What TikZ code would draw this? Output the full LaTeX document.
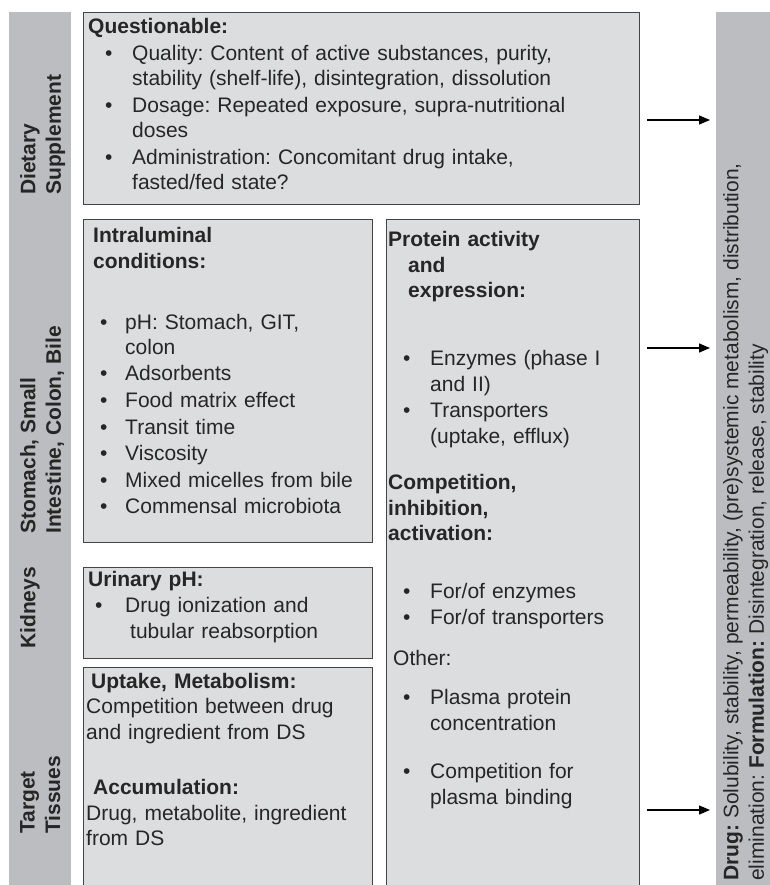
\documentclass[tikz,border=0pt]{standalone}
\usepackage{fontspec}
\setmainfont{Liberation Sans}
\usetikzlibrary{arrows.meta}
\definecolor{bargray}{HTML}{BCBDC0}
\definecolor{boxgray}{HTML}{DCDDDF}
\definecolor{inkgray}{HTML}{262626}
\definecolor{edgegray}{HTML}{454545}
\frenchspacing
\newcommand{\bul}[3]{\par\vspace{1pt}\hangindent=\dimexpr#1pt+#2pt\relax\hangafter=1\noindent\hspace*{#1pt}\makebox[#2pt][l]{\textbullet}#3\par}

\begin{document}
\begin{tikzpicture}[x=1pt, y=-1pt,
    bar/.style ={fill=bargray, inner sep=0pt, anchor=north west},
    box/.style ={fill=boxgray, draw=edgegray, line width=1.2pt, inner sep=0pt, anchor=north west},
    txt/.style ={anchor=base west, inner sep=0pt, align=left, text=inkgray, font=\fontsize{21}{25.5}\selectfont\frenchspacing},
    side/.style ={anchor=north west, inner sep=0pt, align=left, rotate=90, text=inkgray, font=\fontsize{21}{25.5}\selectfont\bfseries},
    arr/.style ={line width=1.3pt, -{Triangle[length=11pt,width=9pt]}, shorten >=6pt}]
   \clip (0,0) rectangle (770,885);
   \node[bar, minimum width=62pt, minimum height=880pt] (organs) at (9,12) {};
   \node[bar, minimum width=60pt, minimum height=880pt] (drugbar) at (716,12) {};
   \node[box, minimum width=556pt, minimum height=192pt] (dsbox) at (83,12) {};
   \node[box, minimum width=289pt, minimum height=323pt] (gutbox) at (83,219) {};
   \node[box, minimum width=253pt, minimum height=680pt] (protbox) at (386,219) {};
   \node[box, minimum width=289pt, minimum height=91pt] (kidbox) at (83,567) {};
   \node[box, minimum width=289pt, minimum height=230pt] (tissbox) at (83,667) {};

   \node[side] (dslabel) at (20,195) {Dietary\\Supplement};
   \node[side] (gutlabel) at (20,534) {Stomach, Small\\Intestine, Colon, Bile};
   \node[side] (kidlabel) at (20,649) {Kidneys};
   \node[side] (tisslabel) at (20,834) {Target\\Tissues};
   \node[side, font=\fontsize{21}{25.5}\selectfont\frenchspacing] (druglabel) at (723,881)
     {\textbf{Drug:} Solubility, stability, permeability, (pre)systemic metabolism, distribution,\\
      elimination: \textbf{Formulation:} Disintegration, release, stability};

   \node[txt, text width=545pt] (dstext) at (88,34) {\textbf{Questionable:}
     \bul{17}{27}{Quality: Content of active substances, purity,\newline stability (shelf-life), disintegration, dissolution}
     \bul{17}{27}{Dosage: Repeated exposure, supra-nutritional\newline doses}
     \bul{17}{27}{Administration: Concomitant drug intake,\newline fasted/fed state?}};
   \node[txt, text width=275pt] (guttext) at (93,243) {\textbf{Intraluminal}\\\textbf{conditions:}\par\vspace{34pt}
     \bul{7}{25}{pH: Stomach, GIT,\newline colon}
     \bul{7}{25}{Adsorbents}
     \bul{7}{25}{Food matrix effect}
     \bul{7}{25}{Transit time}
     \bul{7}{25}{Viscosity}
     \bul{7}{25}{Mixed micelles from bile}
     \bul{7}{25}{Commensal microbiota}};
   \node[txt, text width=245pt] (prottext) at (388,247) {\textbf{Protein activity}\\
     \hspace*{20pt}\textbf{and}\\\hspace*{20pt}\textbf{expression:}\par\vspace{41pt}
     \bul{15}{27}{Enzymes (phase I\newline and II)}
     \bul{15}{27}{Transporters\newline (uptake, efflux)}\vspace{21pt}
     \textbf{Competition,}\\\textbf{inhibition,}\\\textbf{activation:}\par\vspace{31pt}
     \bul{15}{27}{For/of enzymes}
     \bul{15}{27}{For/of transporters}\vspace{15pt}
     \hspace*{5pt}Other:\par\vspace{13pt}
     \bul{15}{27}{Plasma protein\newline concentration}\vspace{22pt}
     \bul{15}{27}{Competition for\newline plasma binding}};
   \node[txt, text width=280pt] (kidtext) at (88,586) {\textbf{Urinary pH:}
     \bul{7}{30}{Drug ionization and\newline\hspace*{5pt}tubular reabsorption}};
   \node[txt, text width=283pt] (tisstext) at (86,688) {\hspace*{5pt}\textbf{Uptake, Metabolism:}\\
     Competition between drug\\and ingredient from DS\par\vspace{30pt}
     \hspace*{7pt}\textbf{Accumulation:}\\Drug, metabolite, ingredient\\from DS};

   \coordinate (dsout) at (647,120);
   \coordinate (gutout) at (647,348);
   \coordinate (tissout) at (647,810);
   \draw[arr] (dsout) -- (dsout -| drugbar.west);
   \draw[arr] (gutout) -- (gutout -| drugbar.west);
   \draw[arr] (tissout) -- (tissout -| drugbar.west);
\end{tikzpicture}
\end{document}
